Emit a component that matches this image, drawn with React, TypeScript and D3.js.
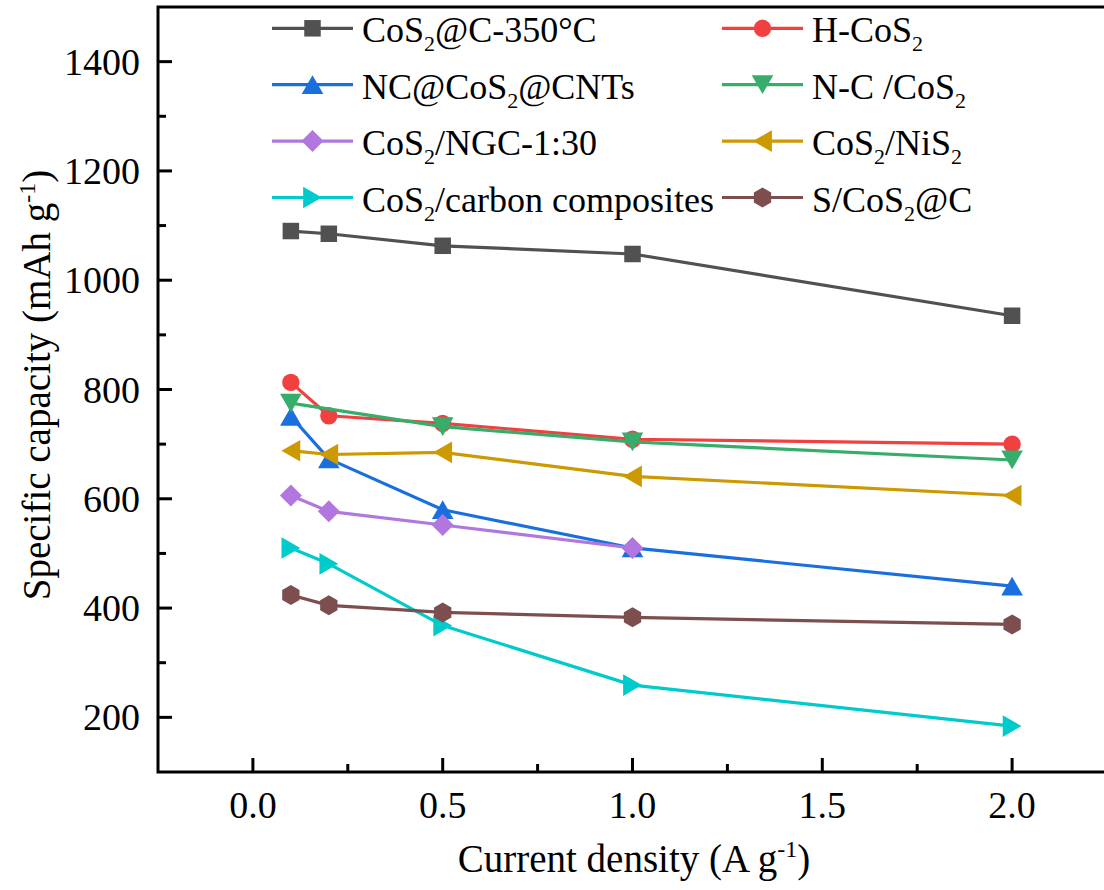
import React from 'react';
import * as d3 from 'd3';

const W = 1104;
const H = 890;

const xDomain = [-0.25, 2.25];
const yDomain = [100, 1500];
const xMajorTicks = [0, 0.5, 1.0, 1.5, 2.0];
const xMinorTicks = [0.25, 0.75, 1.25, 1.75];
const yMajorTicks = [200, 400, 600, 800, 1000, 1200, 1400];
const yMinorTicks = [300, 500, 700, 900, 1100, 1300];

const seriesNames = [
  'CoS_{2}@C-350°C',
  'H-CoS_{2}',
  'NC@CoS_{2}@CNTs',
  'N-C /CoS_{2}',
  'CoS_{2}/NGC-1:30',
  'CoS_{2}/NiS_{2}',
  'CoS_{2}/carbon composites',
  'S/CoS_{2}@C',
];
const seriesColors = ['#515151', '#F14040', '#1A6FDF', '#37AD6B', '#B177DE', '#CC9900', '#00CBCC', '#7D4E4E'];
const seriesShapes = ['square', 'circle', 'triUp', 'triDown', 'diamond', 'triLeft', 'triRight', 'hexagon'];

const xBlack = [0.1, 0.2, 0.5, 1.0, 2.0];
const yBlack = [1090, 1085, 1063, 1048, 935];
const xRed = [0.1, 0.2, 0.5, 1.0, 2.0];
const yRed = [813, 752, 738, 709, 700];
const xBlue = [0.1, 0.2, 0.5, 1.0, 2.0];
const yBlue = [751, 673, 580, 510, 440];
const xGreen = [0.1, 0.5, 1.0, 2.0];
const yGreen = [775, 732, 704, 671];
const xPurple = [0.1, 0.2, 0.5, 1.0];
const yPurple = [606, 577, 552, 510];
const xGold = [0.1, 0.2, 0.5, 1.0, 2.0];
const yGold = [688, 681, 685, 641, 606];
const xCyan = [0.1, 0.2, 0.5, 1.0, 2.0];
const yCyan = [510, 481, 368, 259, 184];
const xBrown = [0.1, 0.2, 0.5, 1.0, 2.0];
const yBrown = [424, 405, 392, 383, 370];

const seriesX = [xBlack, xRed, xBlue, xGreen, xPurple, xGold, xCyan, xBrown];
const seriesY = [yBlack, yRed, yBlue, yGreen, yPurple, yGold, yCyan, yBrown];

const FONT = '"Liberation Serif", "Times New Roman", serif';

function polygon(n: number, r: number, rot: number) {
  const pts: [number, number][] = d3.range(n).map((i) => {
    const a = rot + (i * 2 * Math.PI) / n;
    return [r * Math.cos(a), r * Math.sin(a)];
  });
  return (d3.line()(pts) || '') + 'Z';
}

function markerPath(shape: string) {
  switch (shape) {
    case 'square':
      return d3.symbol().type(d3.symbolSquare).size(16.5 * 16.5)() || '';
    case 'circle':
      return d3.symbol().type(d3.symbolCircle).size(Math.PI * 8.7 * 8.7)() || '';
    case 'triUp':
      return polygon(3, 12.5, -Math.PI / 2);
    case 'triDown':
      return polygon(3, 12.5, Math.PI / 2);
    case 'triLeft':
      return polygon(3, 12.5, Math.PI);
    case 'triRight':
      return polygon(3, 12.5, 0);
    case 'diamond':
      return polygon(4, 11, -Math.PI / 2);
    case 'hexagon':
      return polygon(6, 10, -Math.PI / 2);
  }
  return '';
}

function markerOffset(shape: string): [number, number] {
  // center triangles on their bounding box
  const r = 12.5;
  const d = (r - r * 0.5) / 2;
  if (shape === 'triUp') return [0, d];
  if (shape === 'triDown') return [0, -d];
  if (shape === 'triLeft') return [d, 0];
  if (shape === 'triRight') return [-d, 0];
  return [0, 0];
}

function RichText({ s, subSize, subDy, supSize, supDy }: any) {
  const parts: any[] = [];
  const re = /(_\{[^}]*\}|\^\{[^}]*\})/g;
  let last = 0;
  let m: RegExpExecArray | null;
  let key = 0;
  let shift = 0;
  while ((m = re.exec(s))) {
    if (m.index > last) {
      parts.push(<tspan key={key++} dy={-shift}>{s.slice(last, m.index)}</tspan>);
      shift = 0;
    }
    const isSub = m[0][0] === '_';
    const txt = m[0].slice(2, -1);
    const dyv = isSub ? subDy : -supDy;
    parts.push(
      <tspan key={key++} dy={dyv - shift} fontSize={isSub ? subSize : supSize}>
        {txt}
      </tspan>
    );
    shift = dyv;
    last = m.index + m[0].length;
  }
  if (last < s.length) parts.push(<tspan key={key++} dy={-shift}>{s.slice(last)}</tspan>);
  return <>{parts}</>;
}

export default function App() {
  const x = d3.scaleLinear().domain(xDomain).range([158, 1107]);
  const y = d3.scaleLinear().domain(yDomain).range([772, 7]);
  const left = x(xDomain[0]);
  const right = x(xDomain[1]);
  const top = y(yDomain[1]);
  const bottom = y(yDomain[0]);
  const line = d3.line<[number, number]>().x((d) => x(d[0])).y((d) => y(d[1]));

  const legendCols = [272, 722];
  const legendRow0 = 28.3;
  const legendRowStep = 56.4;
  const legendLineLen = 81;

  return (
    <svg width={W} height={H} style={{ position: 'absolute', left: 0, top: 0, background: '#fff' }} fontFamily={FONT}>
      <rect x={0} y={0} width={W} height={H} fill="#fff" />
      {/* series */}
      {seriesNames.map((name, i) => {
        const pts: [number, number][] = seriesX[i].map((xv, j) => [xv, seriesY[i][j]]);
        const mp = markerPath(seriesShapes[i]);
        const off = markerOffset(seriesShapes[i]);
        return (
          <g key={name}>
            <path d={line(pts) || ''} fill="none" stroke={seriesColors[i]} strokeWidth={3.2} strokeLinejoin="round" />
            {pts.map((p, j) => (
              <path key={j} d={mp} fill={seriesColors[i]} transform={`translate(${x(p[0]) + off[0]},${y(p[1]) + off[1]})`} />
            ))}
          </g>
        );
      })}
      {/* frame */}
      <rect x={left} y={top} width={right - left} height={bottom - top} fill="none" stroke="#000" strokeWidth={3} />
      {/* x ticks */}
      {xMajorTicks.map((t) => (
        <g key={'xm' + t}>
          <line x1={x(t)} x2={x(t)} y1={bottom} y2={bottom - 14} stroke="#000" strokeWidth={3} />
          <text x={x(t)} y={818} textAnchor="middle" fontSize={38} fill="#000">
            {d3.format('.1f')(t)}
          </text>
        </g>
      ))}
      {xMinorTicks.map((t) => (
        <line key={'xn' + t} x1={x(t)} x2={x(t)} y1={bottom} y2={bottom - 8} stroke="#000" strokeWidth={3} />
      ))}
      {/* y ticks */}
      {yMajorTicks.map((t) => (
        <g key={'ym' + t}>
          <line x1={left} x2={left + 14} y1={y(t)} y2={y(t)} stroke="#000" strokeWidth={3} />
          <text x={140} y={y(t) + 13} textAnchor="end" fontSize={38} fill="#000">
            {t}
          </text>
        </g>
      ))}
      {yMinorTicks.map((t) => (
        <line key={'yn' + t} x1={left} x2={left + 8} y1={y(t)} y2={y(t)} stroke="#000" strokeWidth={3} />
      ))}
      {/* axis titles */}
      <text x={(left + 1104) / 2 + 3} y={872} textAnchor="middle" fontSize={39} fill="#000">
        <RichText s={'Current density (A g^{-1})'} supSize={24} supDy={15} subSize={24} subDy={9} />
      </text>
      <text transform={`translate(50,${385}) rotate(-90)`} textAnchor="middle" fontSize={39} fill="#000">
        <RichText s={'Specific capacity (mAh g^{-1})'} supSize={24} supDy={15} subSize={24} subDy={9} />
      </text>
      {/* legend */}
      {seriesNames.map((name, i) => {
        const col = i % 2;
        const row = Math.floor(i / 2);
        const lx = legendCols[col];
        const ly = legendRow0 + row * legendRowStep;
        const mp = markerPath(seriesShapes[i]);
        const off = markerOffset(seriesShapes[i]);
        return (
          <g key={'lg' + i}>
            <line x1={lx} x2={lx + legendLineLen} y1={ly} y2={ly} stroke={seriesColors[i]} strokeWidth={3.2} />
            <path d={mp} fill={seriesColors[i]} transform={`translate(${lx + legendLineLen / 2 + off[0]},${ly + off[1]})`} />
            <text x={lx + legendLineLen + 9} y={ly + 14} fontSize={36} fill="#000">
              <RichText s={name} subSize={22} subDy={9} supSize={22} supDy={14} />
            </text>
          </g>
        );
      })}
    </svg>
  );
}
